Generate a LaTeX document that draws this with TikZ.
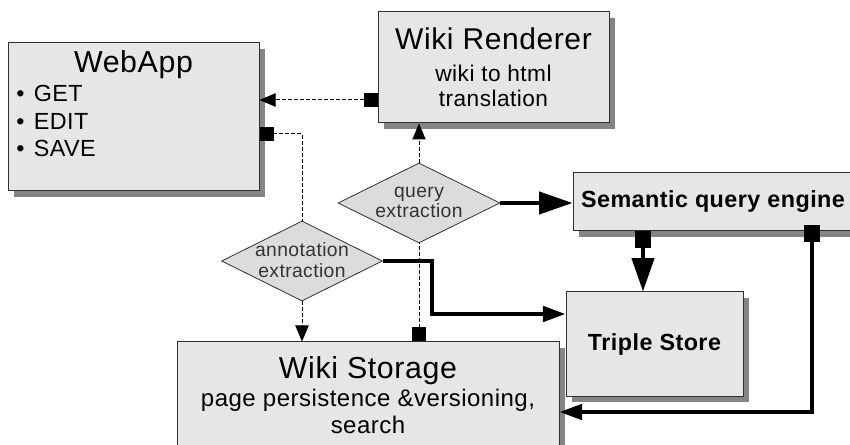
\documentclass[tikz,border=0pt]{standalone}
\usepackage{fontspec}
\setmainfont{Liberation Sans}[LetterSpace=2]
\usetikzlibrary{positioning,shapes.geometric,shadows,arrows.meta}
\definecolor{boxfill}{HTML}{E6E6E6}
\definecolor{dmdfill}{HTML}{DCDCDC}
\definecolor{shadowgray}{HTML}{858585}
\definecolor{edgegray}{HTML}{303030}
\tikzset{
  box/.style={draw=edgegray, line width=0.75pt, fill=boxfill, inner sep=0pt, align=center,
    drop shadow={shadow xshift=4.5pt, shadow yshift=-4.5pt, fill=shadowgray, opacity=1}},
  dmd/.style={diamond, draw=edgegray, line width=0.6pt, fill=dmdfill, inner sep=0pt},
  dmdtext/.style={align=center, inner sep=0pt, text=black!80, font=\fontsize{14.5}{15}\selectfont},
  titletext/.style={inner sep=0pt, font=\fontsize{22.75}{27}\selectfont},
  itemtext/.style={inner sep=0pt, font=\fontsize{17.5}{21}\selectfont},
  dashconn/.style={line width=0.75pt, dash pattern=on 3pt off 1.5pt},
  thickconn/.style={line width=3pt},
  sqtip/.tip={Square[length=10.5pt,width=10pt]},
  bigsq/.tip={Square[length=12.5pt,width=12.5pt]},
  smalltri/.tip={Triangle[length=12pt,width=10pt]},
  medtri/.tip={Triangle[length=17pt,width=11.5pt]},
  bigtri/.tip={Triangle[length=25pt,width=16.5pt]}
}
\begin{document}
\begin{tikzpicture}[x=0.75pt,y=0.75pt,yscale=-1,xscale=1]
\useasboundingbox (0,0) rectangle (850,445);

%Shape: Rectangle (WebApp)
\node[box, minimum width=251*0.75pt, minimum height=148*0.75pt] (webapp) at (133.5,117) {};
\node[titletext, anchor=base] (webapptitle) at (133.5,73) {WebApp};
\foreach \lbl/\yy [count=\i] in {GET/102,EDIT/130,SAVE/157}
  \node[itemtext, anchor=base west] (item\i) at (16,\yy) {\textbullet\hspace{7pt}\lbl};

%Shape: Rectangle (Wiki Renderer)
\node[box, minimum width=231*0.75pt, minimum height=111*0.75pt, font=\fontsize{17}{18.75}\selectfont] (renderer) at (493.5,67.5)
  {{\fontsize{22.5}{27}\selectfont Wiki Renderer}\\[5.25pt]wiki to html\\translation};

%Shape: Rectangle (Semantic query engine)
\node[box, minimum width=280*0.75pt, minimum height=58*0.75pt, font=\fontsize{17.5}{20}\selectfont\bfseries] (sqe) at (713,202)
  {Semantic query engine};

%Shape: Rectangle (Triple Store)
\node[box, minimum width=177*0.75pt, minimum height=104*0.75pt, font=\fontsize{17.5}{20}\selectfont\bfseries] (triple) at (654.5,344)
  {Triple Store};

%Shape: Rectangle (Wiki Storage)
\node[box, minimum width=382*0.75pt, minimum height=106*0.75pt, font=\fontsize{18}{20.25}\selectfont] (storage) at (368,395)
  {{\fontsize{22.75}{27}\selectfont Wiki Storage}\\[0.75pt]page persistence \&versioning,\\search};

%Shape: Diamond (query extraction)
\node[dmd, minimum width=162*0.75pt, minimum height=80*0.75pt] (query) at (419,203) {};
\node[dmdtext] (querytext) at (419,202.5) {query\\extraction};

%Shape: Diamond (annotation extraction)
\node[dmd, minimum width=161*0.75pt, minimum height=80*0.75pt] (annot) at (302,261) {};
\node[dmdtext, font=\fontsize{14.5}{15.75}\selectfont] (annottext) at (302,260.5) {annotation\\extraction};

%Dashed Lines
\draw[dashconn, sqtip-smalltri] (renderer.west |- 0,100) -- (webapp.east |- 0,100);
\draw[dashconn, sqtip-] (webapp.east |- 0,134) -| (annot.north);
\draw[dashconn, -smalltri] (query.north) -- (query.north |- renderer.south);
\draw[dashconn, sqtip-] (query.south |- storage.north) -- (query.south);
\draw[dashconn, -smalltri] (annot.south) -- (annot.south |- storage.north);

%Thick Lines
\draw[thickconn, -bigtri] (query.east) -- (query.east -| sqe.west);
\draw[thickconn, -medtri] (annot.east) -- ++(49,0) |- (triple.west |- 0,314);
\draw[thickconn, bigsq-bigtri] (sqe.south -| 643,0) -- (triple.north -| 643,0);
\draw[thickconn, bigsq-medtri] ([yshift=-4.5pt]sqe.south -| 812,0) |- (storage.east |- 0,412);

\end{tikzpicture}
\end{document}
